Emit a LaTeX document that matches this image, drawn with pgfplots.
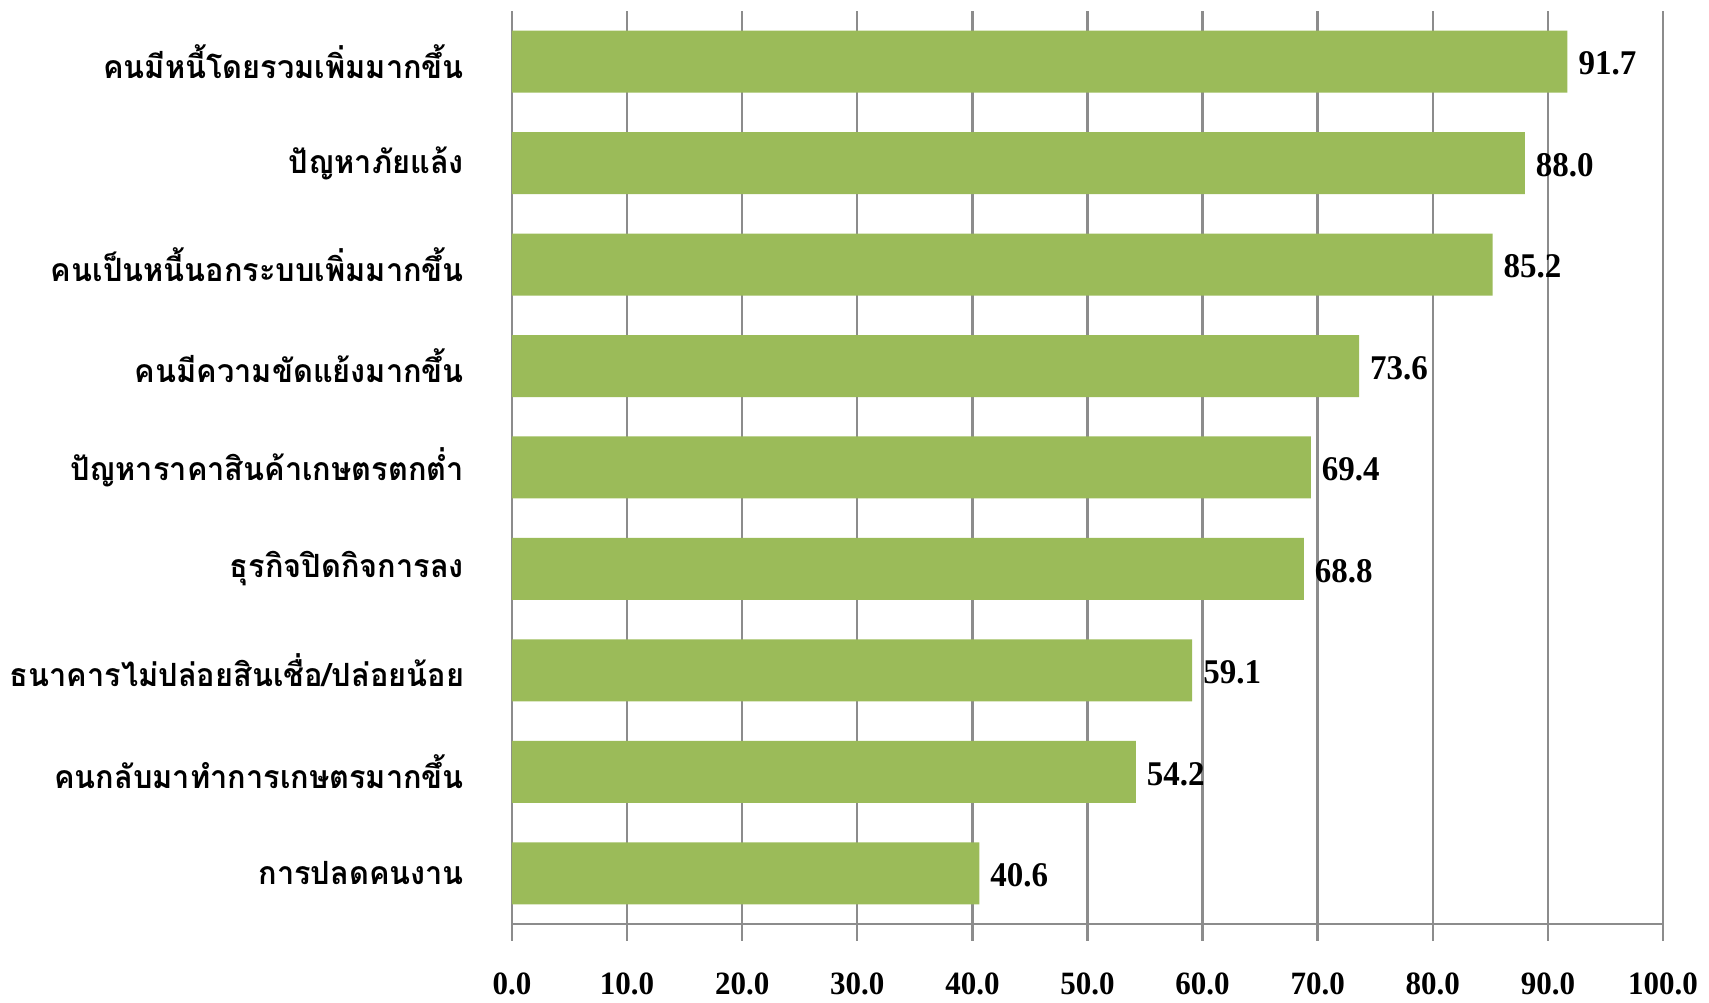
\documentclass[border=0pt]{standalone}
\usepackage{pgfplots}
\pgfplotsset{compat=1.18}
\usepackage{fontspec}
\setmainfont{Liberation Serif}
\newfontfamily\thaifont[Script=Thai, FakeStretch=0.96]{Loma}
\definecolor{barg}{HTML}{9BBB59}
\definecolor{gridg}{HTML}{8C8C8C}
\begin{document}
\begin{tikzpicture}
\begin{axis}[name=ax, scale only axis, width=575.5pt, height=456.5pt,
  xbar, bar width=31pt,
  xmin=0, xmax=100, ymin=-0.5, ymax=8.5,
  axis x line*=bottom, axis y line*=left,
  axis line style={gridg, line width=1.2pt, -},
  xtick={0,10,...,100}, xmajorgrids,
  grid style={gridg, line width=1.2pt},
  x tick style={gridg, line width=1.2pt},
  tick align=center, major tick length=17pt,
  ytick={0,...,8},
  y tick style={draw=none},
  yticklabels={การปลดคนงาน,คนกลับมาทำการเกษตรมากขึ้น,ธนาคารไม่ปล่อยสินเชื่อ/ปล่อยน้อย,ธุรกิจปิดกิจการลง,ปัญหาราคาสินค้าเกษตรตกต่ำ,คนมีความขัดแย้งมากขึ้น,คนเป็นหนี้นอกระบบเพิ่มมากขึ้น,ปัญหาภัยแล้ง,คนมีหนี้โดยรวมเพิ่มมากขึ้น},
  yticklabel style={font=\thaifont\fontsize{16}{16}\selectfont\bfseries, xshift=-12pt},
  extra y ticks={-0.5,0.5,1.5,2.5,3.5,4.5,5.5,6.5,7.5,8.5},
  extra y tick labels={},
  extra y tick style={tick align=outside, major tick length=7.5pt, tick style={draw=gridg, line width=1.2pt}},
  xticklabel={\scalebox{1}[1.05]{\pgfmathprintnumber[fixed,fixed zerofill,precision=1,assume math mode=true]{\tick}}},
  xticklabel style={font=\fontsize{15.5}{16}\selectfont\bfseries, yshift=-12.5pt},
  point meta=x,
  nodes near coords={\scalebox{1}[1.05]{\pgfmathprintnumber[fixed,fixed zerofill,precision=1,assume math mode=true]{\pgfplotspointmeta}}},
  nodes near coords style={font=\fontsize{16.5}{17}\selectfont\bfseries, anchor=west, xshift=2pt, yshift=-1pt, text=black},
]
\addplot[fill=barg, draw=none] coordinates {
  (40.6,0) (54.2,1) (59.1,2) (68.8,3) (69.4,4) (73.6,5) (85.2,6) (88.0,7) (91.7,8)
};
\end{axis}
\pgfresetboundingbox
\path ([xshift=-256pt,yshift=-39.5pt]ax.south west) rectangle ([xshift=23pt,yshift=5.5pt]ax.north east);
\end{tikzpicture}
\end{document}
